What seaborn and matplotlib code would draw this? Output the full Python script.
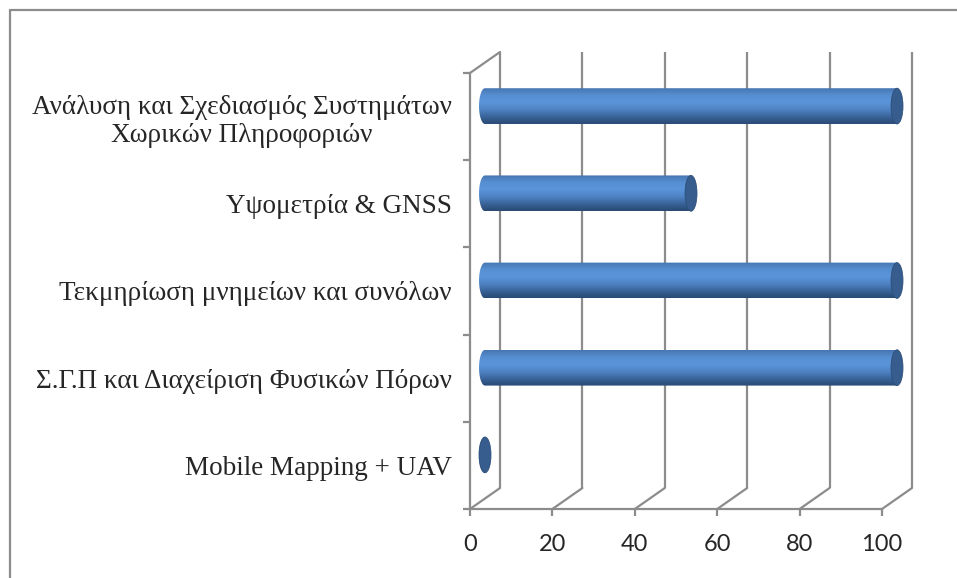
import numpy as np
import seaborn as sns
import matplotlib
matplotlib.use("Agg")
import matplotlib.pyplot as plt
from matplotlib.lines import Line2D
from matplotlib.patches import Ellipse, PathPatch, ConnectionPatch
from matplotlib.path import Path
from matplotlib.transforms import ScaledTranslation
from matplotlib.colors import LinearSegmentedColormap

# data
categories = [
    "Ανάλυση και Σχεδιασμός Συστημάτων\nΧωρικών Πληροφοριών",
    "Υψομετρία & GNSS",
    "Τεκμηρίωση μνημείων και συνόλων",
    "Σ.Γ.Π και Διαχείριση Φυσικών Πόρων",
    "Mobile Mapping + UAV",
]
values = [100, 50, 100, 100, 0]
xticks = [0, 20, 40, 60, 80, 100]

GRAY = "#8c8c8c"
DPI = 100
DEPTH_X, DEPTH_Y = 30, 21  # pixels, fake 3d depth
CAP_W = 2.9  # ellipse width in x units

sns.set_theme(style="white")
plt.rcParams["font.family"] = ["Liberation Serif", "DejaVu Serif"]

fig = plt.figure(figsize=(9.57, 5.78), dpi=DPI)
ax = fig.add_axes([470 / 957, 69 / 578, 412 / 957, 436 / 578])

sns.barplot(x=values, y=categories, orient="h", ax=ax, width=0.41,
            color="#5b93d6", zorder=3)

ax.set_xlim(0, 100)
ax.set_ylim(4.5, -0.5)

off_back = ScaledTranslation(DEPTH_X / DPI, DEPTH_Y / DPI, fig.dpi_scale_trans)
off_mid = ScaledTranslation(DEPTH_X / 2 / DPI, DEPTH_Y / 2 / DPI, fig.dpi_scale_trans)
trans_back = ax.transData + off_back
trans_mid = ax.transData + off_mid

# back wall gridlines
ax.vlines(xticks, -0.5, 4.5, colors=GRAY, lw=1.6, transform=trans_back,
          clip_on=False, zorder=1)
# floor diagonals
for t in xticks:
    con = ConnectionPatch((t, 4.5), (t, 4.5), coordsA=ax.transData, coordsB=trans_back,
                          color=GRAY, lw=1.6, zorder=1)
    fig.add_artist(con)
# left wall top diagonal
con = ConnectionPatch((0, -0.5), (0, -0.5), coordsA=ax.transData, coordsB=trans_back,
                      color=GRAY, lw=1.6, zorder=1)
fig.add_artist(con)

# cylinder look for the bars
cmap = LinearSegmentedColormap.from_list(
    "cyl", ["#4676b2", "#5790d2", "#5b94d8", "#4f83c4", "#3a649a", "#284a74"])
grad = np.linspace(0, 1, 64).reshape(-1, 1)

for bar in list(ax.patches):
    x0, y0, w, h = bar.get_x(), bar.get_y(), bar.get_width(), bar.get_height()
    bar.set_visible(False)
    yc = y0 + h / 2
    th = np.linspace(np.pi / 2, 3 * np.pi / 2, 40)
    arc = np.column_stack([x0 + CAP_W / 2 * np.cos(th), yc - h / 2 * np.sin(th)])
    verts = np.vstack([[[x0 + w, y0], [x0 + w, y0 + h]], arc[::-1], [[x0 + w, y0]]])
    body = PathPatch(Path(verts), transform=trans_mid, facecolor="none", edgecolor="none")
    ax.add_patch(body)
    im = ax.imshow(grad, extent=(x0 - CAP_W / 2, x0 + w, y0 + h, y0), aspect="auto",
                   cmap=cmap, transform=trans_mid, zorder=3)
    im.set_clip_path(body)
    im.set_clip_box(fig.bbox)
    cap = Ellipse((x0 + w, yc), CAP_W, h, facecolor="#365d8d", edgecolor="#2d4f7a",
                  lw=0.6, transform=trans_mid, zorder=4, clip_on=False)
    ax.add_patch(cap)

ax.set_xlim(0, 100)
ax.set_ylim(4.5, -0.5)

for s in ["top", "right"]:
    ax.spines[s].set_visible(False)
for s in ["left", "bottom"]:
    ax.spines[s].set_color(GRAY)
    ax.spines[s].set_linewidth(1.6)

ax.set_xticks(xticks)
ax.set_xticklabels([str(t) for t in xticks], family=["Lato", "DejaVu Sans"])
ax.tick_params(axis="x", direction="out", length=5, width=1.6, color=GRAY,
               labelsize=17, pad=13, bottom=True)
ax.set_yticks(range(len(categories)))
ax.set_yticklabels(categories, multialignment="center")
ax.set_yticks(np.arange(-0.5, 5, 1), minor=True)
ax.tick_params(axis="y", which="major", length=0, labelsize=19.5, pad=13)
ax.tick_params(axis="y", which="minor", direction="out", length=5, width=1.6,
               color=GRAY, left=True)
ax.set_xlabel("")
ax.set_ylabel("")
ax.grid(False)

# outer chart border (clipped at right/bottom in the original)
fig.add_artist(Line2D([10 / 957, 10 / 957], [0, 1 - 10 / 578], color=GRAY, lw=1.6))
fig.add_artist(Line2D([10 / 957, 1], [1 - 10 / 578, 1 - 10 / 578], color=GRAY, lw=1.6))

fig.savefig("out.png", dpi=DPI)
